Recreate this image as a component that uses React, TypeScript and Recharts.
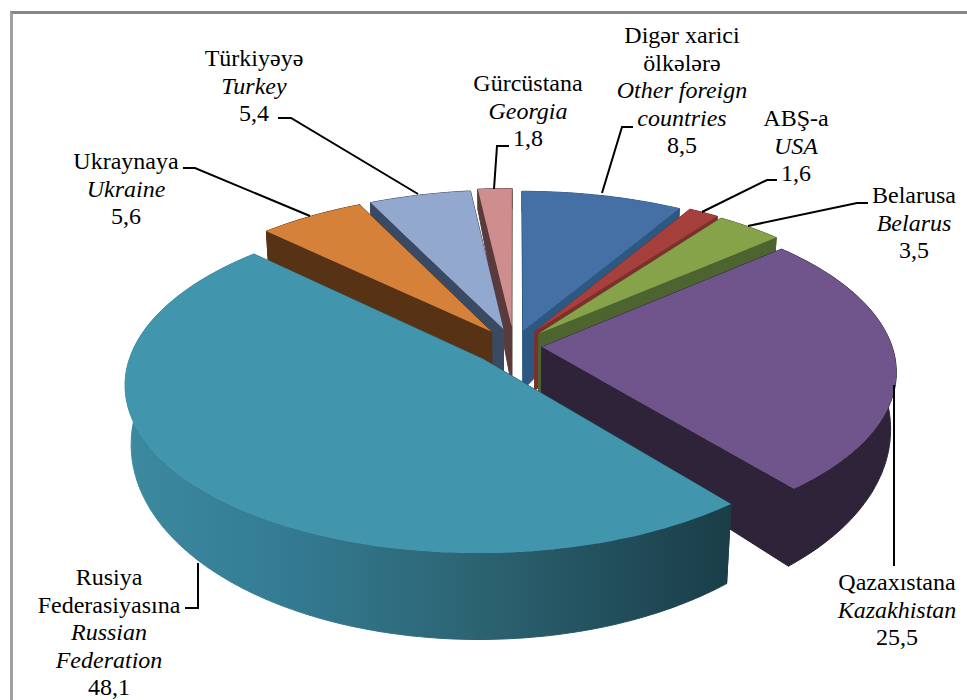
import { Pie, PieChart } from "recharts";

// Clockwise from 12 o'clock.
const NATIVE_NAMES = ["Digər xarici\nölkələrə", "ABŞ-a", "Belarusa", "Qazaxıstana", "Rusiya\nFederasiyasına", "Ukraynaya", "Türkiyəyə", "Gürcüstana"];
const ENGLISH_NAMES = ["Other foreign\ncountries", "USA", "Belarus", "Kazakhistan", "Russian\nFederation", "Ukraine", "Turkey", "Georgia"];
const VALUES = [8.5, 1.6, 3.5, 25.5, 48.1, 5.6, 5.4, 1.8];
const VALUE_LABELS = ["8,5", "1,6", "3,5", "25,5", "48,1", "5,6", "5,4", "1,8"];

const TOP_COLORS = ["#4470a5", "#a5403c", "#87a34a", "#70558c", "#4195ad", "#d6813a", "#92a8cf", "#cd8e8d"];
const WALL_COLORS = ["#2d5882", "#7d2f2e", "#4d6330", "#2e2338", "url(#russiaWall)", "#583215", "#3a4a62", "#5a3a3a"];
const EXPLODE = [0.1, 0.11, 0.106, 0.08, 0.118, 0.11, 0.11, 0.12];

// label centre x and first baseline y
const LABEL_POS = [[682, 43], [796, 126], [914, 203], [897, 590], [109, 585], [126, 169], [254, 66], [528, 91]];
const LEADERS = [
  "602,193 622,127 633,127",
  "702,212 767,180 777,180",
  "748,226 857,203 868,203",
  "894,385 894,566",
  "198,563 198,608 185,608",
  "183,168 195,168 310,216",
  "278,118 291,118 418,194",
  "509,146 497,146 494,189",
];

const CX = 514;
const CY = 346;
const RADIUS = 350;
const TILT = 0.465;
const PERSPECTIVE = 0.14;
const LINE_HEIGHT = 27.5;
const TIP_EXTRA = 8;

const chartData = VALUES.map((value, idx) => ({ name: NATIVE_NAMES[idx], value, idx }));

// Two pies so the paint order runs back to front on both sides of 12 o'clock:
// the left slices go counter-clockwise, the rest clockwise.
const rightData = chartData.slice(0, 5);
const leftData = chartData.slice(5).reverse();
const total = VALUES.reduce((a, b) => a + b, 0);
const leftSweep = (leftData.reduce((a, d) => a + d.value, 0) / total) * 360;

const depthAt = (v: number) => 54 + 30 * v;

// ground plane (u right, v toward the viewer) to screen
function project(u: number, v: number, lowered = false, extra = 0): [number, number] {
  const s = 1 / (1 - PERSPECTIVE * v);
  const x = CX + RADIUS * u * s;
  const y = CY + RADIUS * TILT * v * s;
  if (!lowered) return [x, y];
  const d = depthAt(v);
  return [x - (x - CX) * (d / 78) * 0.02, y + d + extra];
}

const toPath = (pts: [number, number][]) => "M" + pts.map((p) => `${p[0].toFixed(1)},${p[1].toFixed(1)}`).join("L") + "Z";

function Slice3D(props: any) {
  const { startAngle, endAngle } = props;
  const idx = props.payload?.idx ?? props.idx;
  const rad = Math.PI / 180;
  const mid = ((startAngle + endAngle) / 2) * rad;
  const ox = EXPLODE[idx] * Math.cos(mid);
  const oy = -EXPLODE[idx] * Math.sin(mid);

  const rim: [number, number][] = [];
  const steps = Math.max(2, Math.ceil(Math.abs(startAngle - endAngle)));
  for (let i = 0; i <= steps; i++) {
    const a = (startAngle + ((endAngle - startAngle) * i) / steps) * rad;
    rim.push([ox + Math.cos(a), oy - Math.sin(a)]);
  }
  const up = rim.map((p) => project(p[0], p[1]));
  const down = rim.map((p) => project(p[0], p[1], true));
  const tipUp = project(ox, oy);
  const tipDown = project(ox, oy, true, TIP_EXTRA);
  const wall = WALL_COLORS[idx];

  return (
    <g>
      {idx === 4 && (
        <defs>
          <linearGradient id="russiaWall" gradientUnits="userSpaceOnUse" x1={125} y1={0} x2={733} y2={0}>
            <stop offset="0" stopColor="#3c8a9f" />
            <stop offset="0.25" stopColor="#347c94" />
            <stop offset="0.55" stopColor="#2d6675" />
            <stop offset="0.8" stopColor="#224f5c" />
            <stop offset="1" stopColor="#1a3d47" />
          </linearGradient>
        </defs>
      )}
      <path d={toPath([tipUp, up[0], down[0], tipDown])} fill={wall} stroke={wall} />
      <path d={toPath([tipUp, up[steps], down[steps], tipDown])} fill={wall} stroke={wall} />
      <path d={toPath([...up, ...[...down].reverse()])} fill={wall} stroke={wall} />
      <path d={toPath([tipUp, ...up])} fill={TOP_COLORS[idx]} />
    </g>
  );
}

function renderLabel(props: any) {
  const idx = props.payload?.idx ?? props.index;
  const [x, y] = LABEL_POS[idx];
  const native = NATIVE_NAMES[idx].split("\n");
  const english = ENGLISH_NAMES[idx].split("\n");
  const lines = [
    ...native.map((t) => ({ t, italic: false })),
    ...english.map((t) => ({ t, italic: true })),
    { t: VALUE_LABELS[idx], italic: false },
  ];
  return (
    <text x={x} y={y} textAnchor="middle" fontFamily="'Liberation Serif'" fontSize={24} fill="#000">
      {lines.map((line, i) => (
        <tspan key={i} x={x} y={y + i * LINE_HEIGHT} fontStyle={line.italic ? "italic" : "normal"}>
          {line.t}
        </tspan>
      ))}
    </text>
  );
}

function renderLeader(props: any) {
  const idx = props.payload?.idx ?? props.index;
  return <polyline points={LEADERS[idx]} fill="none" stroke="#000" strokeWidth={2} />;
}

export default function App() {
  return (
    <div style={{ position: "absolute", left: 0, top: 0, width: 967, height: 700, overflow: "hidden", background: "#fff" }}>
      <div style={{ position: "absolute", left: 10, top: 11, width: 960, height: 700, borderLeft: "3px solid #a0a0a0", borderTop: "3px solid #868686" }} />
      <div style={{ position: "absolute", left: 0, top: 0 }}>
        <PieChart width={967} height={700} margin={{ top: 0, right: 0, bottom: 0, left: 0 }}>
          <Pie
            data={leftData}
            dataKey="value"
            nameKey="name"
            cx={CX}
            cy={CY}
            innerRadius={0}
            outerRadius={RADIUS}
            startAngle={90}
            endAngle={90 + leftSweep}
            stroke="none"
            shape={Slice3D}
            label={renderLabel}
            labelLine={renderLeader}
            isAnimationActive={false}
          />
          <Pie
            data={rightData}
            dataKey="value"
            nameKey="name"
            cx={CX}
            cy={CY}
            innerRadius={0}
            outerRadius={RADIUS}
            startAngle={90}
            endAngle={90 + leftSweep - 360}
            stroke="none"
            shape={Slice3D}
            label={renderLabel}
            labelLine={renderLeader}
            isAnimationActive={false}
          />
        </PieChart>
      </div>
    </div>
  );
}
